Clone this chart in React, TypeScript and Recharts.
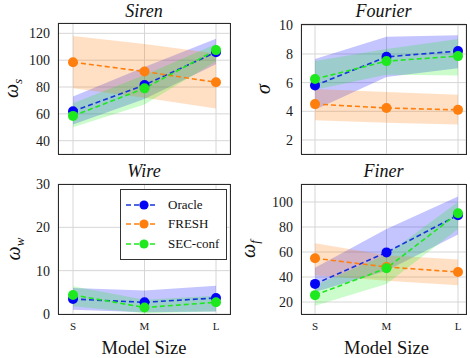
import React from "react";
import { ComposedChart, Area, Line, XAxis, YAxis, CartesianGrid, Legend } from "recharts";

const SERIF = "'Liberation Serif', 'Times New Roman', Tinos, 'DejaVu Serif', serif";

const sizes = ["S", "M", "L"];

// Siren (omega_s)
const sirenOracle = [62, 81.5, 106];
const sirenOracleLo = [52, 71, 97];
const sirenOracleHi = [73, 95, 116];
const sirenFresh = [98.5, 91.5, 83.5];
const sirenFreshLo = [79, 72, 64];
const sirenFreshHi = [118, 112, 105];
const sirenSec = [58.5, 79, 107.5];
const sirenSecLo = [50, 67, 99];
const sirenSecHi = [68, 89, 112];

// Fourier (sigma)
const fourierOracle = [5.8, 7.8, 8.2];
const fourierOracleLo = [4.1, 6.4, 7.0];
const fourierOracleHi = [7.65, 9.2, 9.3];
const fourierFresh = [4.5, 4.23, 4.1];
const fourierFreshLo = [3.37, 3.2, 3.07];
const fourierFreshHi = [5.55, 5.35, 5.16];
const fourierSec = [6.25, 7.5, 7.85];
const fourierSecLo = [5.5, 6.55, 6.5];
const fourierSecHi = [7.5, 8.35, 9.05];

// Wire (omega_w) -- FRESH falls outside the axis range
const wireOracle = [3.45, 2.7, 3.7];
const wireOracleLo = [1.0, 0.4, 0.6];
const wireOracleHi = [6.0, 5.4, 6.5];
const wireSec = [4.4, 1.5, 2.7];
const wireSecLo = [1.8, 0.2, 0.6];
const wireSecHi = [6.4, 3.3, 4.2];

// Finer (omega_f)
const finerOracle = [34.5, 59.7, 89.5];
const finerOracleLo = [28, 45, 74];
const finerOracleHi = [47.5, 78.5, 104.5];
const finerFresh = [55, 48, 44];
const finerFreshLo = [41.5, 37, 33.5];
const finerFreshHi = [67, 57.5, 54];
const finerSec = [25.5, 47, 91];
const finerSecLo = [17, 34.5, 78.5];
const finerSecHi = [33.5, 58, 100];

const SERIES = [
  { key: "oracle", name: "Oracle", dot: "#0505f5", line: "#1434dc", band: "#0000ff", bandOpacity: 0.23 },
  { key: "fresh", name: "FRESH", dot: "#ff7f0e", line: "#ff7f0e", band: "#ff7f0e", bandOpacity: 0.24 },
  { key: "sec", name: "SEC-conf", dot: "#1ee81e", line: "#1ee81e", band: "#00ee00", bandOpacity: 0.2 },
];

type Trio = [number[], number[], number[]];

function buildRows(series: Record<string, Trio>) {
  return sizes.map((size, i) => {
    const row: Record<string, unknown> = { size };
    for (const [key, [mid, lo, hi]] of Object.entries(series)) {
      row[key] = mid[i];
      row[`${key}Band`] = [lo[i], hi[i]];
    }
    return row;
  });
}

const PANELS = [
  {
    title: "Siren", sub: "s", left: 0, top: 0, width: 235, height: 160,
    plot: { left: 58, right: 230, top: 23, bottom: 154 }, xPad: { left: 15, right: 14 },
    yDomain: [30.1, 127.7], yTicks: [40, 60, 80, 100, 120], labelX: 18, bottomAxis: false,
    series: {
      oracle: [sirenOracle, sirenOracleLo, sirenOracleHi],
      fresh: [sirenFresh, sirenFreshLo, sirenFreshHi],
      sec: [sirenSec, sirenSecLo, sirenSecHi],
    } as Record<string, Trio>,
  },
  {
    title: "Fourier", sub: "", left: 235, top: 0, width: 235, height: 160,
    plot: { left: 66, right: 231, top: 24, bottom: 154 }, xPad: { left: 14, right: 8 },
    yDomain: [1.02, 10.09], yTicks: [2, 4, 6, 8, 10], labelX: 35, bottomAxis: false,
    series: {
      oracle: [fourierOracle, fourierOracleLo, fourierOracleHi],
      fresh: [fourierFresh, fourierFreshLo, fourierFreshHi],
      sec: [fourierSec, fourierSecLo, fourierSecHi],
    } as Record<string, Trio>,
  },
  {
    title: "Wire", sub: "w", left: 0, top: 160, width: 235, height: 198,
    plot: { left: 58, right: 230, top: 24, bottom: 154 }, xPad: { left: 15, right: 14 },
    yDomain: [0, 30], yTicks: [0, 10, 20, 30], labelX: 20, bottomAxis: true, labelShift: 0, legend: true,
    series: {
      oracle: [wireOracle, wireOracleLo, wireOracleHi],
      sec: [wireSec, wireSecLo, wireSecHi],
    } as Record<string, Trio>,
  },
  {
    title: "Finer", sub: "f", left: 235, top: 160, width: 235, height: 198,
    plot: { left: 66, right: 231, top: 24, bottom: 154 }, xPad: { left: 14, right: 8 },
    yDomain: [10.4, 114.4], yTicks: [20, 40, 60, 80, 100], labelX: 20, bottomAxis: true, labelShift: 3,
    series: {
      oracle: [finerOracle, finerOracleLo, finerOracleHi],
      fresh: [finerFresh, finerFreshLo, finerFreshHi],
      sec: [finerSec, finerSecLo, finerSecHi],
    } as Record<string, Trio>,
  },
];

function LegendBox() {
  return (
    <div
      style={{
        border: "1px solid #333",
        background: "#fff",
        padding: "5px 0 5px 5px",
        boxSizing: "border-box",
        width: 107,
        fontFamily: SERIF,
        fontSize: 13,
        color: "#111",
      }}
    >
      {SERIES.map((s) => (
        <div key={s.key} style={{ display: "flex", alignItems: "center", height: 19.5 }}>
          <svg width={32} height={12} style={{ display: "block" }}>
            <line x1={0} y1={6} x2={32} y2={6} stroke={s.line} strokeWidth={1.5} strokeDasharray="5 3" />
            <circle cx={18} cy={6} r={4.6} fill={s.dot} />
          </svg>
          <span style={{ marginLeft: 10, lineHeight: "14px" }}>{s.name}</span>
        </div>
      ))}
    </div>
  );
}

function Panel({ cfg }: { cfg: any }) {
  const { plot, width, height } = cfg;
  const rows = buildRows(cfg.series);
  const active = SERIES.filter((s) => cfg.series[s.key]);
  const tickStyle = { fontSize: 14, fill: "#1a1a1a", fontFamily: SERIF };

  const yLabel = (p: any) => {
    const vb = p.viewBox || {};
    const cy = (vb.y ?? plot.top) + (vb.height ?? plot.bottom - plot.top) / 2;
    const x = cfg.labelX;
    return (
      <text
        x={x}
        y={cy}
        transform={`rotate(-90 ${x} ${cy})`}
        textAnchor="middle"
        style={{ fontFamily: SERIF, fontStyle: "italic", fontSize: 20 }}
        fill="#111"
      >
        {cfg.sub ? "ω" : "σ"}
        {cfg.sub ? (
          <tspan dy={4} style={{ fontSize: 13 }}>
            {cfg.sub}
          </tspan>
        ) : null}
      </text>
    );
  };

  const xLabel = (p: any) => {
    const vb = p.viewBox || {};
    const cx = (vb.x ?? plot.left) + (vb.width ?? plot.right - plot.left) / 2 + (cfg.labelShift || 0);
    return (
      <text x={cx} y={194} textAnchor="middle" style={{ fontFamily: SERIF, fontSize: 18.5 }} fill="#111">
        Model Size
      </text>
    );
  };

  return (
    <div style={{ position: "absolute", left: cfg.left, top: cfg.top, width, height, fontFamily: SERIF }}>
      <div
        style={{
          position: "absolute",
          left: plot.left,
          width: plot.right - plot.left,
          top: 1,
          textAlign: "center",
          fontFamily: SERIF,
          fontStyle: "italic",
          fontSize: 18,
          lineHeight: "20px",
          color: "#111",
        }}
      >
        {cfg.title}
      </div>
      <ComposedChart
        width={width}
        height={height}
        data={rows}
        style={{ fontFamily: SERIF }}
        margin={{
          top: plot.top,
          right: width - plot.right,
          left: 0,
          bottom: cfg.bottomAxis ? 0 : height - plot.bottom,
        }}
      >
        <CartesianGrid stroke="#d6d6d6" strokeWidth={1} />
        <XAxis
          dataKey="size"
          hide={!cfg.bottomAxis}
          height={cfg.bottomAxis ? height - plot.bottom : 0}
          padding={cfg.xPad}
          axisLine={false}
          tickLine={false}
          tickSize={0}
          tickMargin={8}
          tick={{ fontSize: 11, fill: "#1a1a1a", style: { fontFamily: SERIF } }}
          label={cfg.bottomAxis ? xLabel : undefined}
        />
        <YAxis
          type="number"
          domain={cfg.yDomain}
          ticks={cfg.yTicks}
          allowDataOverflow
          width={plot.left}
          axisLine={false}
          tickLine={false}
          tickSize={0}
          tickMargin={8}
          tick={{ ...tickStyle, style: { fontFamily: SERIF } }}
          label={yLabel}
        />
        {active.map((s) => (
          <Area
            key={`${s.key}-band`}
            dataKey={`${s.key}Band`}
            type="linear"
            stroke="none"
            fill={s.band}
            fillOpacity={s.bandOpacity}
            activeDot={false}
            legendType="none"
            isAnimationActive={false}
          />
        ))}
        {active.map((s) => (
          <Line
            key={s.key}
            dataKey={s.key}
            name={s.name}
            type="linear"
            stroke={s.line}
            strokeWidth={1.6}
            strokeDasharray="5 3"
            dot={{ r: 5, fill: s.dot, stroke: s.dot, strokeWidth: 0 }}
            activeDot={false}
            isAnimationActive={false}
          />
        ))}
        {cfg.legend ? (
          <Legend
            layout="vertical"
            align="center"
            verticalAlign="middle"
            wrapperStyle={{ left: 120, top: 29, width: 107 }}
            content={() => <LegendBox />}
          />
        ) : null}
      </ComposedChart>
      <div
        style={{
          position: "absolute",
          left: plot.left,
          top: plot.top,
          width: plot.right - plot.left + 1,
          height: plot.bottom - plot.top + 1,
          border: "1px solid #2a2a2a",
          boxSizing: "border-box",
          pointerEvents: "none",
        }}
      />
    </div>
  );
}

export default function App() {
  return (
    <div
      style={{
        position: "absolute",
        left: 0,
        top: 0,
        width: 470,
        height: 358,
        background: "#fff",
        overflow: "hidden",
        fontFamily: SERIF,
      }}
    >
      {PANELS.map((cfg) => (
        <Panel key={cfg.title} cfg={cfg} />
      ))}
    </div>
  );
}
